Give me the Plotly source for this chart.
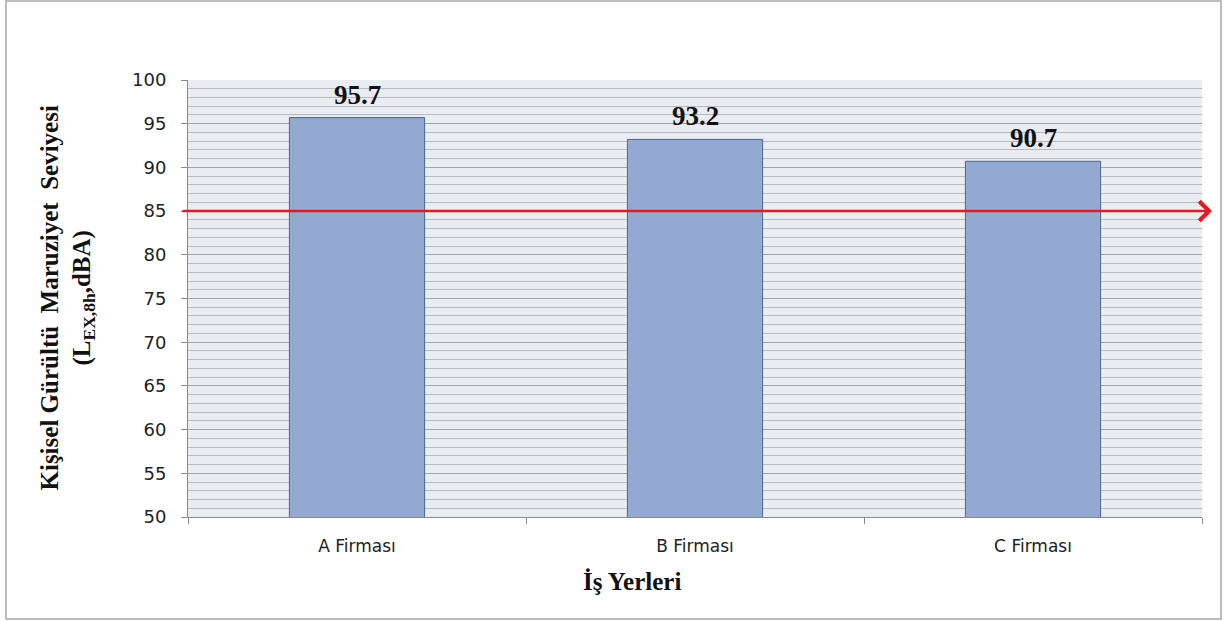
import plotly.graph_objects as go

# Workplaces and their personal noise exposure levels (dBA)
firms = ["A Firması", "B Firması", "C Firması"]
exposure = [95.7, 93.2, 90.7]
limit_value = 85
y_ticks = [50, 55, 60, 65, 70, 75, 80, 85, 90, 95, 100]

W, H = 1226, 621
ML, MR, MT, MB = 188, 24, 80, 104
PW, PH = W - ML - MR, H - MT - MB


def px_x(p):
    return (p - ML) / PW


def px_y(p):
    return (H - MB - p) / PH


fig = go.Figure()

fig.add_trace(go.Bar(
    x=firms,
    y=exposure,
    marker=dict(color="#93a9d2", line=dict(color="#4a6790", width=1)),
    width=0.4,
    hoverinfo="x+y",
))

serif_bold = dict(family="Liberation Serif", size=27, color="#111111")

annotations = []
# value labels above bars
for f, v in zip(firms, exposure):
    annotations.append(dict(
        x=f, y=v, xref="x", yref="y", text=f"<b>{v}</b>", showarrow=False,
        yanchor="middle", yshift=23, font=serif_bold,
    ))

# limit line with arrow
annotations.append(dict(
    x=px_x(1212), y=limit_value, xref="paper", yref="y",
    ax=-(1212 - 181), ay=0, axref="pixel", ayref="pixel",
    text="", showarrow=True, arrowhead=4, arrowsize=1.5,
    arrowwidth=2.5, arrowcolor="#e01b22", standoff=0,
))

# axis titles
annotations.append(dict(
    x=px_x(67), y=0.5, xref="paper", yref="paper", textangle=-90,
    text="<b>Kişisel Gürültü\u00a0 Maruziyet\u00a0 Seviyesi</b><br><b>(L<sub>EX,8h</sub>,dBA)</b>",
    showarrow=False, xanchor="center", yanchor="middle",
    font=dict(family="Liberation Serif", size=25, color="#111111"),
))
annotations.append(dict(
    x=px_x(632), y=px_y(581), xref="paper", yref="paper",
    text="<b>İş Yerleri</b>", showarrow=False, xanchor="center", yanchor="middle",
    font=dict(family="Liberation Serif", size=25, color="#111111"),
))

fig.update_layout(
    width=W, height=H,
    margin=dict(l=ML, r=MR, t=MT, b=MB, pad=0),
    paper_bgcolor="white",
    plot_bgcolor="#e9ecf1",
    showlegend=False,
    annotations=annotations,
    shapes=[dict(
        type="rect", xref="paper", yref="paper",
        x0=px_x(6), x1=px_x(1221), y0=px_y(619), y1=px_y(1),
        line=dict(color="#a8a8a8", width=1.5), fillcolor="rgba(0,0,0,0)",
        layer="below",
    )],
)

fig.update_xaxes(
    showline=True, linecolor="#8a8a8a", linewidth=1,
    ticks="outside", ticklen=6, tickcolor="#8a8a8a", tickson="boundaries",
    showgrid=False, ticklabelstandoff=14,
    tickfont=dict(family="DejaVu Sans", size=17, color="#222222"),
)

fig.update_yaxes(
    range=[50, 100], tickvals=y_ticks,
    showline=True, linecolor="#8a8a8a", linewidth=1,
    ticks="outside", ticklen=6, tickcolor="#8a8a8a",
    showgrid=True, gridcolor="#a4a4a4", gridwidth=1,
    minor=dict(dtick=1, showgrid=True, gridcolor="#b9b9b9", gridwidth=1),
    zeroline=False, ticklabelstandoff=11,
    tickfont=dict(family="DejaVu Sans", size=18, color="#222222"),
)

fig.write_html("out.html")
